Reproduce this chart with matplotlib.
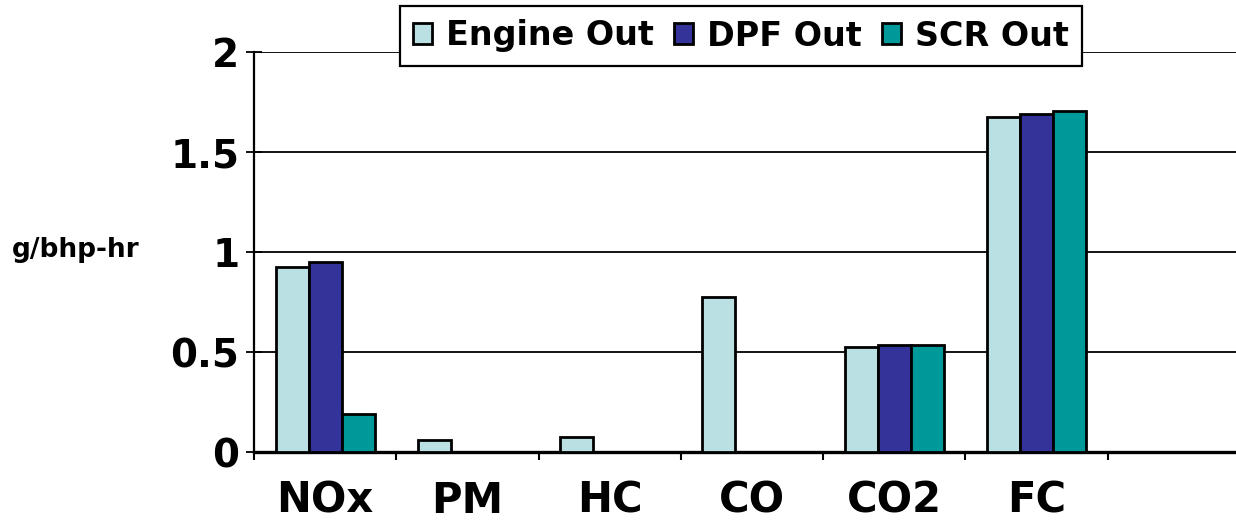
import numpy as np
import matplotlib.pyplot as plt
from matplotlib.ticker import FixedLocator

plt.rcParams['font.family'] = ['DejaVu Sans']
plt.rcParams['font.weight'] = 'bold'

categories = ['NOx', 'PM', 'HC', 'CO', 'CO2', 'FC', '']
engine_out = [0.925, 0.06, 0.075, 0.775, 0.525, 1.675, 0]
dpf_out = [0.95, 0, 0, 0, 0.535, 1.69, 0]
scr_out = [0.19, 0, 0, 0, 0.535, 1.705, 0]
series_names = ['Engine Out', 'DPF Out', 'SCR Out']
colors = ['#BBE0E3', '#333399', '#009999']

fig = plt.figure(figsize=(12.36, 5.2), dpi=100)
ax = fig.add_axes([254 / 1236, 68 / 520, 996 / 1236, 400 / 520])

x = np.arange(len(categories))
w = 0.232
for i, (vals, name, c) in enumerate(zip([engine_out, dpf_out, scr_out], series_names, colors)):
    vals = np.array(vals, dtype=float)
    mask = vals > 0
    ax.bar(x[mask] + (i - 1) * w, vals[mask], width=w, color=c,
           edgecolor='black', linewidth=2.0, label=name, zorder=3)

ax.set_xlim(-0.5, len(categories) - 0.5)
ax.set_ylim(0, 2)
ax.set_yticks([0, 0.5, 1, 1.5, 2])
ax.set_yticklabels(['0', '0.5', '1', '1.5', '2'])
ax.yaxis.grid(True, color='black', linewidth=1.3, zorder=0)
ax.set_axisbelow(True)

ax.set_xticks(x)
ax.set_xticklabels(categories)
ax.xaxis.set_minor_locator(FixedLocator(np.arange(len(categories) + 1) - 0.5))
ax.tick_params(axis='x', which='major', length=0, pad=20, labelsize=30)
ax.tick_params(axis='x', which='minor', length=6, width=1.5, direction='out')
ax.tick_params(axis='y', which='major', length=11, width=1.3, pad=5,
               direction='inout', labelsize=28)

for s in ['top', 'right']:
    ax.spines[s].set_visible(False)
ax.spines['left'].set_linewidth(1.6)
ax.spines['bottom'].set_linewidth(2.4)

fig.text(12 / 1236, 1 - 250 / 520, 'g/bhp-hr', fontsize=19, fontweight='bold',
         va='center', ha='left')

leg = ax.legend(loc='center', bbox_to_anchor=(741 / 1236, 1 - 36 / 520),
                bbox_transform=fig.transFigure, ncol=3, fontsize=24,
                frameon=True, fancybox=False, edgecolor='black',
                handlelength=0.57, handleheight=0.57, handletextpad=0.42,
                columnspacing=0.6, borderpad=0.4, borderaxespad=0)
leg.get_frame().set_linewidth(1.6)
leg.get_frame().set_alpha(1)
leg.set_zorder(5)

fig.savefig('out.png', dpi=100)
